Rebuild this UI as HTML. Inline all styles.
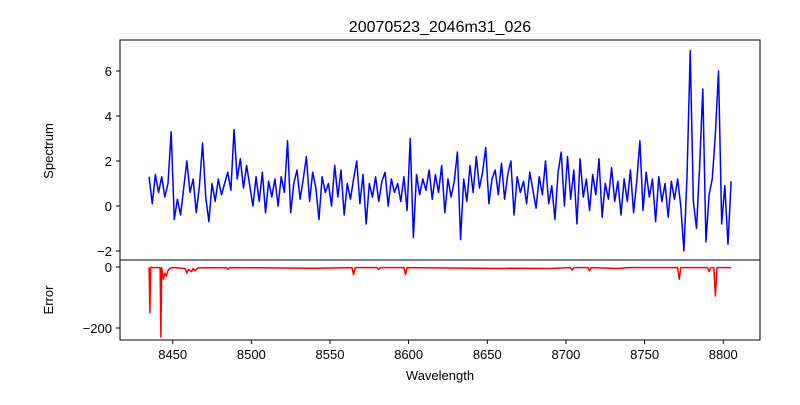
<!DOCTYPE html>
<html><head><meta charset="utf-8"><style>
body{margin:0;background:#fff}
svg text{font-family:"Liberation Sans","DejaVu Sans",sans-serif;fill:#000}
</style></head><body>
<svg id="c" width="800" height="400" xmlns="http://www.w3.org/2000/svg">
<rect width="800" height="400" fill="#fff"/>
<text x="440" y="32" font-size="16" text-anchor="middle">20070523_2046m31_026</text>
<g id="topPanel"></g>
<g id="botPanel"></g>
<text x="440" y="380" font-size="13" text-anchor="middle">Wavelength</text>
<text transform="translate(53,151) rotate(-90)" font-size="13" text-anchor="middle">Spectrum</text>
<text transform="translate(53,300) rotate(-90)" font-size="13" text-anchor="middle">Error</text>
</svg>
<script>
const specStart = 8435;
const specStep = 2;
const specValues = [1.3,0.1,1.4,0.6,1.3,0.4,1.0,3.3,-0.6,0.3,
-0.4,0.8,2.0,0.6,1.2,-0.3,0.9,2.8,0.4,-0.7,
1.0,0.2,1.2,0.5,1.0,1.5,0.7,3.4,1.2,2.1,
0.8,1.8,0.9,0.0,1.3,0.2,1.5,-0.3,1.1,0.4,
1.2,0.0,1.3,0.6,2.9,-0.3,1.0,1.6,0.3,1.2,
2.2,0.2,1.5,0.8,-0.6,1.3,0.6,1.0,0.0,1.8,
0.4,1.6,-0.4,1.0,0.3,1.2,2.0,0.1,1.4,-0.8,
1.0,0.4,1.3,0.2,1.1,1.5,0.0,1.2,0.6,1.0,
0.2,1.3,-0.2,3.0,-1.4,1.4,0.5,1.2,0.7,1.6,
0.3,1.4,0.6,1.8,-0.3,1.2,0.4,1.1,2.4,-1.5,
1.2,0.2,1.8,0.6,2.2,0.8,1.5,2.6,0.1,1.2,
1.6,0.5,1.9,0.3,1.4,2.0,-0.4,1.3,0.6,1.1,
0.1,1.5,0.7,-0.1,1.3,0.5,2.0,0.1,0.9,-0.6,
1.5,2.4,0.0,2.2,0.3,1.6,-0.8,2.1,0.4,1.2,
-0.2,1.4,0.5,2.1,-0.5,1.0,0.3,1.7,0.2,1.1,
-0.4,1.2,0.2,1.6,-0.3,1.1,2.9,-0.2,1.5,0.4,
1.2,-0.7,1.3,0.2,1.0,-0.5,1.1,0.3,1.2,0.0,
-2.0,1.4,6.9,0.2,-1.0,1.8,5.2,-1.6,0.5,1.2,
3.2,6.0,-0.8,0.9,-1.7,1.1];
const errWave = [8435,8435.5,8436,8436.5,8437,8442,8442.5,8443,8443.5,8444,8445,8446,8447,8448,8449,8450,8458,8459,8460,8462,8463,8464,8466,8484,8485,8486,8540,8564,8565,8566,8580,8581,8582,8597,8598,8599,8660,8665,8690,8703,8704,8705,8714,8715,8716,8733,8740,8771,8772,8773,8790,8791,8792,8794,8795,8796,8805];
const errVal = [-1,-150,-3,0,-2,-2,-230,-2,-20,-40,-20,-30,-12,-5,-3,-2,-5,-20,-8,-15,-5,-12,-3,-2,-8,-2,-4,-2,-25,-2,-2,-8,-2,-2,-25,-2,-5,-4,-5,-2,-10,-2,-2,-12,-2,-5,-2,-2,-40,-2,-2,-15,-2,-2,-95,-2,-2];
const xTicks = [8450,8500,8550,8600,8650,8700,8750,8800];
const topTicks = [-2,0,2,4,6];
const botTicks = [-200,0];

const NS = "http://www.w3.org/2000/svg";
const X0 = 120, X1 = 760;
const xs = w => 172.7 + (w - 8450) * 1.573;
const ys = v => 206 - v * 22.5;
const ye = v => 267 - v * 0.305;
function mk(tag, attrs, parent) {
  const e = document.createElementNS(NS, tag);
  for (const k in attrs) e.setAttribute(k, attrs[k]);
  parent.appendChild(e); return e;
}
const topG = document.getElementById('topPanel'), botG = document.getElementById('botPanel');

let d = specValues.map((v, i) => (i ? 'L' : 'M') + xs(specStart + i * specStep).toFixed(2) + ' ' + ys(v).toFixed(2)).join(' ');
const sl = mk('path', {d: d, fill: 'none', stroke: '#0000ff', 'stroke-width': 1.5, 'stroke-linejoin': 'round'}, topG);



d = errWave.map((w, i) => (i ? 'L' : 'M') + xs(w).toFixed(2) + ' ' + ye(errVal[i]).toFixed(2)).join(' ');
const el = mk('path', {d: d, fill: 'none', stroke: '#ff0000', 'stroke-width': 1.5, 'stroke-linejoin': 'round'}, botG);



const f1 = mk('rect', {x: X0, y: 40, width: X1 - X0, height: 220, fill: 'none', stroke: '#000', 'stroke-width': 1}, topG);


const f2 = mk('rect', {x: X0, y: 260, width: X1 - X0, height: 80, fill: 'none', stroke: '#000', 'stroke-width': 1}, botG);



xTicks.forEach(t => {
  const x = xs(t);
  mk('line', {x1: x, x2: x, y1: 340, y2: 344, stroke: '#000'}, botG);
  const tx = mk('text', {x: x, y: 359, 'font-size': 13, 'text-anchor': 'middle'}, botG);
  tx.textContent = t;
  
  
});
topTicks.forEach(t => {
  const y = ys(t);
  mk('line', {x1: 116, x2: 120, y1: y, y2: y, stroke: '#000'}, topG);
  const tx = mk('text', {x: 112, y: y + 5, 'font-size': 13, 'text-anchor': 'end'}, topG);
  tx.textContent = t < 0 ? '\u2212' + (-t) : t;
  
  
});
botTicks.forEach(t => {
  const y = ye(t);
  mk('line', {x1: 116, x2: 120, y1: y, y2: y, stroke: '#000'}, botG);
  const tx = mk('text', {x: 112, y: y + 5, 'font-size': 13, 'text-anchor': 'end'}, botG);
  tx.textContent = t < 0 ? '\u2212' + (-t) : t;
  
  
});
</script>
</body></html>
